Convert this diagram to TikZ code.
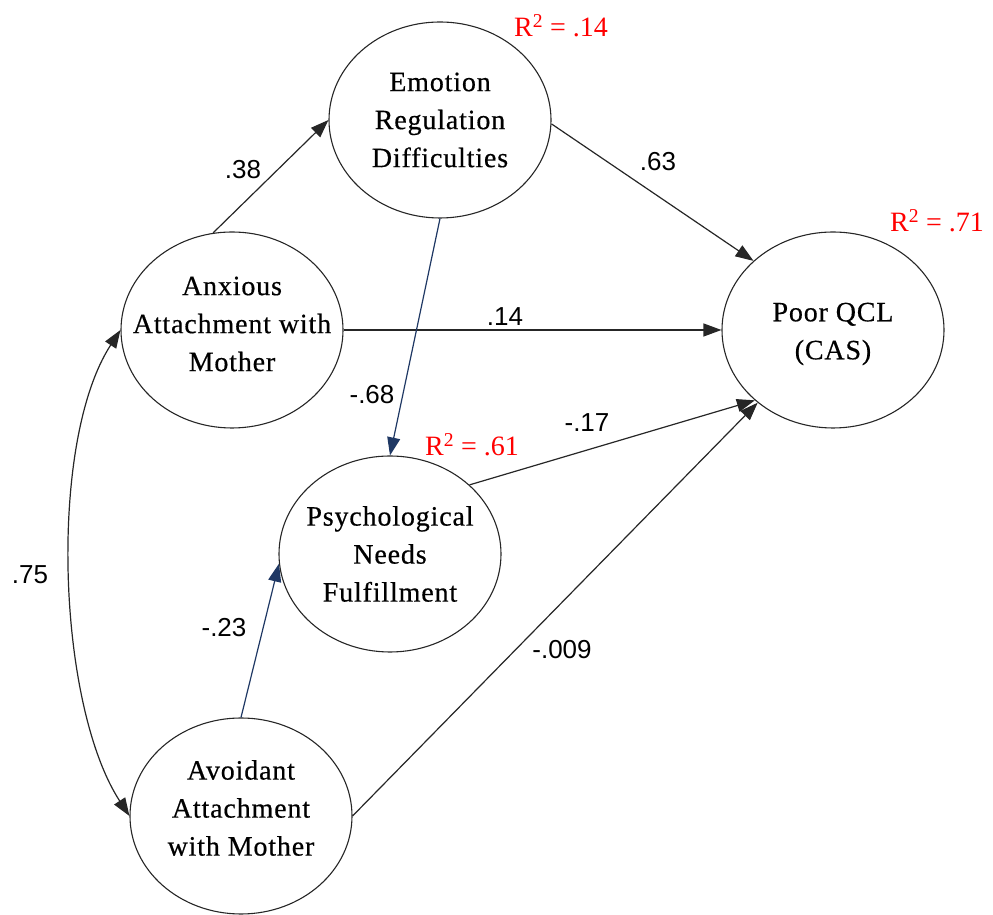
\documentclass[tikz,border=0pt]{standalone}
\usepackage{fontspec}
\setmainfont{Liberation Serif}
\newfontfamily\coeffont{Liberation Sans}
\newfontfamily\labelfont[FakeBold=0.5,LetterSpace=3]{Liberation Serif}
\usetikzlibrary{shapes.geometric, arrows.meta}
\definecolor{pathnavy}{RGB}{31,56,100}
\definecolor{rsqred}{RGB}{255,0,0}

\begin{document}
\begin{tikzpicture}[x=1pt,y=1pt,
  latent/.style={ellipse, draw=black!85, line width=1.1pt,
    minimum width=222pt, minimum height=196pt, inner sep=0pt},
  nodetext/.style={align=center, inner sep=0pt,
    font=\labelfont\fontsize{28}{38}\selectfont},
  coef/.style={font=\coeffont\fontsize{26}{30}\selectfont, inner sep=0pt},
  rsq/.style={text=rsqred, font=\fontsize{28}{32}\selectfont, inner sep=0pt},
  tip/.style={-{Triangle[length=18pt,width=13pt]}},
  effect/.style={draw=black!85, line width=1.2pt, tip},
  navyeffect/.style={draw=pathnavy, line width=1.2pt, tip}
]
\useasboundingbox (0,0) rectangle (993,915);

% latent variables
\node[latent] (E) at (440,795) {};
\node[nodetext] (Etxt) at (E.center) {Emotion\\Regulation\\Difficulties};
\node[latent] (A) at (232,585) {};
\node[nodetext] (Atxt) at ([yshift=6]A.center) {Anxious\\Attachment with\\Mother};
\node[latent] (Q) at (833,585) {};
\node[nodetext] (Qtxt) at ([yshift=-4]Q.center) {Poor QCL\\(CAS)};
\node[latent] (P) at (390,361) {};
\node[nodetext] (Ptxt) at (P.center) {Psychological\\Needs\\Fulfillment};
\node[latent] (V) at (241,99) {};
\node[nodetext] (Vtxt) at ([yshift=8]V.center) {Avoidant\\Attachment\\with Mother};

% structural paths
\draw[effect] (A.101) -- (E.west);
\draw[effect] (E.-2) -- (Q.139);
\draw[effect] (A.east) -- (Q.west);
\draw[navyeffect] (E.south) -- (P.north);
\draw[effect] (P.41) -- (Q.222);
\draw[navyeffect] (V.north) -- (P.185);
\draw[effect] (V.east) -- (Q.224);

% covariance between the attachment dimensions
\draw[draw=black!85, line width=1.2pt,
  {Triangle[length=18pt,width=13pt]}-{Triangle[length=18pt,width=13pt]}]
  (A.west) to[out=237,in=123,looseness=0.7] (V.west);

% path coefficients
\node[coef] (c38) at (243,745) {.38};
\node[coef] (c63) at (658,753) {.63};
\node[coef] (c14) at (505,598) {.14};
\node[coef] (c68) at (372,520) {-.68};
\node[coef] (c17) at (587,492) {-.17};
\node[coef] (c75) at (30,340) {.75};
\node[coef] (c23) at (224,287) {-.23};
\node[coef] (c009) at (562,265) {-.009};

% explained variance
\node[rsq] (rE) at (561,889) {R\textsuperscript{2} = .14};
\node[rsq] (rQ) at (937,694) {R\textsuperscript{2} = .71};
\node[rsq] (rP) at (472,470) {R\textsuperscript{2} = .61};
\end{tikzpicture}
\end{document}
